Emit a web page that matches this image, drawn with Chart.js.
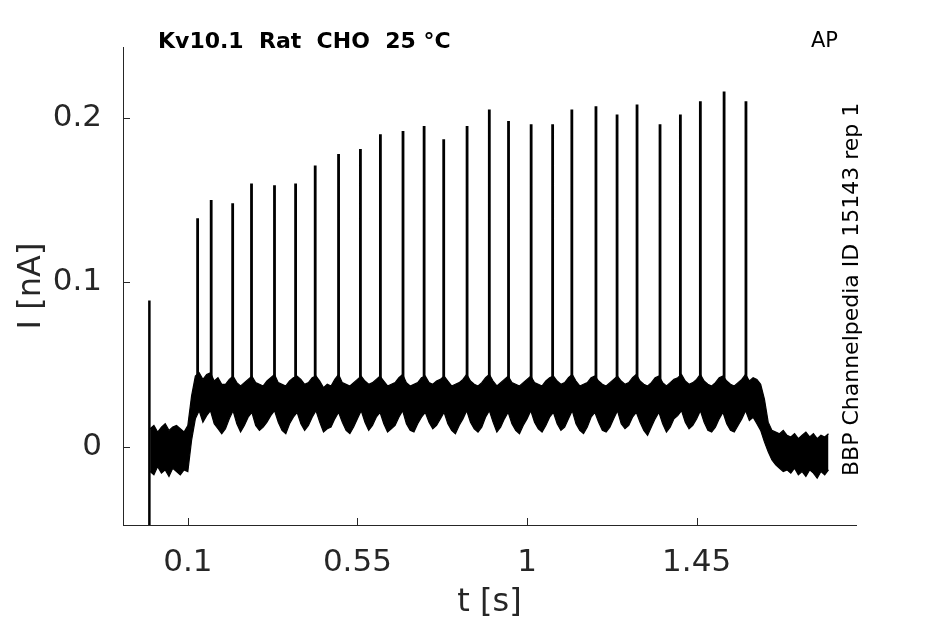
<!DOCTYPE html>
<html>
<head>
<meta charset="utf-8">
<script src="https://cdn.jsdelivr.net/npm/chart.js@4.4.1/dist/chart.umd.min.js"></script>
<style>
  html, body { margin: 0; padding: 0; background: #fff; }
  #wrap { width: 945px; height: 624px; }
</style>
</head>
<body>
<div id="wrap"><canvas id="trace" width="945" height="624"></canvas></div>
<script>
// recording: Kv10.1, AP protocol; current band (upper / lower edge) every 10 ms, in pA
const sampleStart = 0.0
const sampleStep = 0.01
const bandHi = [
  11, 13, 9, 12, 14, 10, 12, 13, 11, 9,
  13, 31, 43, 45, 41, 44, 45, 40, 42, 38,
  38, 41, 43, 39, 37, 39, 41, 43, 39, 38,
  37, 40, 42, 44, 39, 38, 37, 40, 42, 43,
  41, 38, 39, 42, 43, 40, 36, 38, 37, 41,
  44, 39, 38, 37, 39, 41, 43, 40, 38, 39,
  41, 43, 40, 37, 38, 39, 42, 44, 39, 37,
  38, 39, 42, 43, 39, 38, 40, 41, 43, 40,
  37, 38, 39, 41, 44, 40, 38, 37, 39, 42,
  44, 40, 37, 39, 41, 43, 39, 38, 37, 39,
  41, 43, 39, 38, 37, 40, 42, 43, 40, 38,
  39, 42, 44, 40, 37, 38, 39, 42, 43, 40,
  38, 37, 39, 41, 43, 40, 38, 39, 42, 44,
  40, 38, 37, 39, 42, 43, 39, 37, 39, 41,
  42, 44, 40, 38, 39, 41, 44, 40, 38, 37,
  39, 42, 43, 40, 38, 37, 39, 41, 44, 40,
  42, 41, 38, 29, 15, 10, 9, 8, 10, 7,
  6, 8, 5, 7, 9, 6, 8, 5, 7, 6,
  8
]
const bandLo = [
  -15, -17, -12, -16, -14, -18, -13, -15, -17, -14,
  -15, 4, 17, 22, 15, 19, 22, 14, 11, 8,
  11, 17, 22, 14, 9, 13, 18, 21, 13, 10,
  12, 15, 19, 22, 15, 10, 8, 14, 18, 21,
  14, 10, 13, 18, 22, 15, 9, 11, 12, 17,
  21, 15, 10, 8, 12, 17, 22, 15, 10, 13,
  18, 21, 14, 9, 11, 13, 18, 22, 14, 10,
  9, 14, 18, 21, 15, 11, 13, 17, 21, 14,
  10, 8, 13, 17, 22, 15, 11, 9, 12, 18,
  22, 15, 9, 12, 17, 21, 14, 10, 8, 13,
  17, 22, 15, 11, 9, 13, 18, 21, 14, 10,
  12, 17, 22, 14, 10, 8, 12, 18, 21, 15,
  10, 9, 12, 17, 22, 14, 11, 13, 18, 21,
  15, 10, 7, 12, 17, 21, 14, 9, 12, 17,
  19, 22, 15, 11, 13, 17, 22, 15, 10, 9,
  12, 17, 21, 14, 10, 9, 13, 17, 22, 16,
  18, 14, 10, 3, -3, -8, -11, -13, -15, -14,
  -16, -13, -17, -15, -18, -14, -16, -19, -15, -17,
  -14
]

// action-potential-like spikes riding on the band
const spikeTimes = [0.126, 0.162, 0.219, 0.269, 0.330, 0.386, 0.438, 0.500, 0.558,
  0.611, 0.671, 0.727, 0.779, 0.841, 0.900, 0.951, 1.011, 1.068, 1.119, 1.183,
  1.239, 1.292, 1.353, 1.407, 1.460, 1.523, 1.581]
const spikePeaks = [0.139, 0.150, 0.148, 0.160, 0.159, 0.160, 0.171, 0.178, 0.181,
  0.190, 0.192, 0.195, 0.187, 0.195, 0.205, 0.198, 0.196, 0.196, 0.205, 0.207,
  0.202, 0.208, 0.196, 0.202, 0.210, 0.216, 0.210]
const spikeBase = 0.03

// capacitive artifact at stimulus onset
const artifactTime = -0.002
const artifactRange = [0.089, -0.06]

const xTicks = [0.1, 0.55, 1, 1.45]
const xTickLabels = ['0.1', '0.55', '1', '1.45']
const yTicks = [0, 0.1, 0.2]
const yTickLabels = ['0', '0.1', '0.2']

const axisColor = '#262626'

const hiPts = bandHi.map((v, i) => ({x: sampleStart + i * sampleStep, y: v / 1000}))
const loPts = bandLo.map((v, i) => ({x: sampleStart + i * sampleStep, y: v / 1000}))

let spikePts = []
for (let i = 0; i < spikeTimes.length; i++) {
  spikePts.push({x: spikeTimes[i], y: spikeBase})
  spikePts.push({x: spikeTimes[i], y: spikePeaks[i]})
  spikePts.push({x: spikeTimes[i], y: null})
}
const artifactPts = artifactRange.map(v => ({x: artifactTime, y: v}))

const textPlugin = {
  id: 'texts',
  afterDraw(chart) {
    const ctx = chart.ctx
    const xs = chart.scales.x, ys = chart.scales.y
    ctx.save()
    // inward tick marks
    ctx.strokeStyle = axisColor
    ctx.lineWidth = 1
    ctx.beginPath()
    for (const v of xTicks) {
      const px = Math.round(xs.getPixelForValue(v)) + 0.5
      ctx.moveTo(px, ys.bottom)
      ctx.lineTo(px, ys.bottom - 7)
    }
    for (const v of yTicks) {
      const py = Math.round(ys.getPixelForValue(v)) + 0.5
      ctx.moveTo(xs.left, py)
      ctx.lineTo(xs.left + 7, py)
    }
    ctx.stroke()

    ctx.fillStyle = '#000'
    ctx.textBaseline = 'alphabetic'
    ctx.font = 'bold 22px "DejaVu Sans"'
    ctx.textAlign = 'left'
    ctx.fillText('Kv10.1  Rat  CHO  25 °C', 158, 48)
    ctx.font = '21px "DejaVu Sans"'
    ctx.fillText('AP', 811, 47)

    ctx.save()
    ctx.translate(858, 476)
    ctx.rotate(-Math.PI / 2)
    ctx.font = '22px "DejaVu Sans"'
    ctx.fillText('BBP Channelpedia ID 15143 rep 1', 0, 0)
    ctx.restore()

    // axis labels
    ctx.fillStyle = axisColor
    ctx.font = '32px "DejaVu Sans"'
    ctx.textAlign = 'center'
    ctx.textBaseline = 'middle'
    ctx.fillText('t [s]', (xs.left + xs.right) / 2, 603)
    ctx.save()
    ctx.translate(32, (ys.top + ys.bottom) / 2)
    ctx.rotate(-Math.PI / 2)
    ctx.fillText('I [nA]', 0, 0)
    ctx.restore()
    ctx.restore()
  }
}

const ctx = document.getElementById('trace').getContext('2d')
const traceChart = new Chart(ctx, {
  type: 'line',
  data: {
    datasets: [
      {data: hiPts, borderColor: '#000', borderWidth: 1.2, backgroundColor: '#000', fill: '+1', pointRadius: 0},
      {data: loPts, borderColor: '#000', borderWidth: 1.2, fill: false, pointRadius: 0},
      {data: spikePts, borderColor: '#000', borderWidth: 2.8, fill: false, pointRadius: 0, spanGaps: false},
      {data: artifactPts, borderColor: '#000', borderWidth: 2.5, fill: false, pointRadius: 0, clip: 0}
    ]
  },
  options: {
    responsive: false,
    animation: false,
    devicePixelRatio: 1,
    layout: {padding: {top: 47, right: 89, left: 0, bottom: 0}},
    plugins: {
      legend: {display: false},
      tooltip: {enabled: false}
    },
    scales: {
      x: {
        type: 'linear',
        min: -0.072,
        max: 1.873,
        afterFit: s => { s.height = 99 },
        afterBuildTicks: s => { s.ticks = xTicks.map(v => ({value: v})) },
        grid: {display: false},
        border: {display: true, color: axisColor, width: 1},
        ticks: {
          autoSkip: false,
          maxRotation: 0,
          padding: 11,
          color: axisColor,
          font: {family: 'DejaVu Sans', size: 31},
          callback: v => xTickLabels[xTicks.indexOf(v)]
        }
      },
      y: {
        type: 'linear',
        min: -0.0475,
        max: 0.243,
        afterFit: s => { s.width = 123 },
        afterBuildTicks: s => { s.ticks = yTicks.map(v => ({value: v})) },
        grid: {display: false},
        border: {display: true, color: axisColor, width: 1},
        ticks: {
          autoSkip: false,
          padding: 13,
          color: axisColor,
          font: {family: 'DejaVu Sans', size: 31},
          callback: v => yTickLabels[yTicks.indexOf(v)]
        }
      }
    }
  },
  plugins: [textPlugin]
})
</script>
</body>
</html>
